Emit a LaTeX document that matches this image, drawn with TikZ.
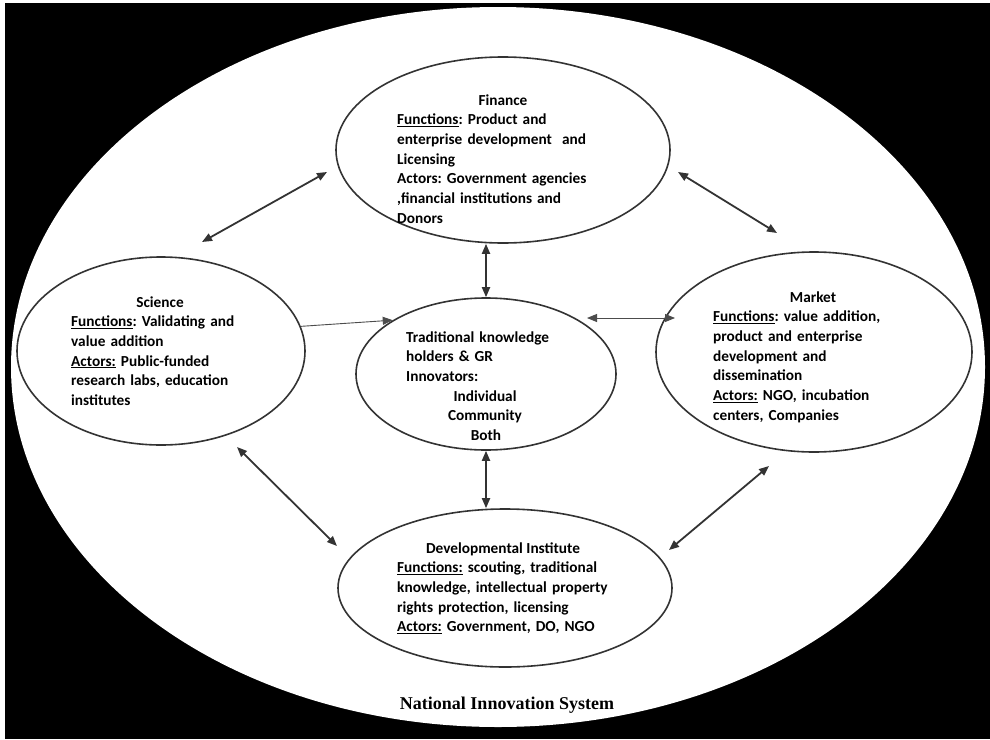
\documentclass[tikz,border=0pt]{standalone}
\usepackage{fontspec}
\setmainfont{Carlito}
\newfontfamily\nisfont{Liberation Serif}
\usetikzlibrary{arrows.meta,shapes.geometric}
\frenchspacing

\tikzset{
  blob/.style = {draw=black!80, line width=1.6pt, ellipse, inner sep=0pt},
  head/.style = {anchor=base, inner sep=0pt, font=\fontsize{15.3}{19.7}\selectfont\bfseries},
  body/.style = {anchor=base west, inner sep=0pt, align=left, text width=260pt,
                 font=\fontsize{15.3}{19.7}\selectfont\bfseries},
  link/.style = {draw=black!80, line width=1.8pt, {Triangle[length=10pt,width=8pt]}-{Triangle[length=10pt,width=8pt]}},
  thinlink/.style = {draw=black!70, line width=0.9pt, {Triangle[length=10pt,width=8pt]}-{Triangle[length=10pt,width=8pt]}},
  onelink/.style  = {draw=black!70, line width=0.9pt, -{Triangle[length=10pt,width=8pt]}}
}

\begin{document}
\begin{tikzpicture}[x=1pt, y=-1pt]
    \useasboundingbox (0,0) rectangle (990,739);
    \fill[white] (0,0) rectangle (990,739);
    \fill[black] (5,3) rectangle (990,739);
    \fill[white] (498,367) ellipse [x radius=487pt, y radius=360pt];

    % the five actors
    \node[blob, minimum width=334pt, minimum height=186pt] (fin) at (503,150) {};
    \node[blob, minimum width=288pt, minimum height=188pt] (sci) at (161,351) {};
    \node[blob, minimum width=316pt, minimum height=200pt] (mkt) at (814,352) {};
    \node[blob, minimum width=260pt, minimum height=152pt] (tk)  at (486,374) {};
    \node[blob, minimum width=334pt, minimum height=158pt] (di)  at (505,588) {};

    % texts
    \node[head] (finhead) at (503,105) {Finance};
    \node[body] (fintxt) at (397,124.7) {\underline{Functions}: Product and\\
        enterprise development~ and\\ Licensing\\ Actors: Government agencies\\
        ,financial institutions and\\ Donors};

    \node[head] (scihead) at (160,307) {Science};
    \node[body] (scitxt) at (71,326.7) {\underline{Functions}: Validating and\\
        value addition\\ \underline{Actors:} Public-funded\\
        research labs, education\\ institutes};

    \node[head] (mkthead) at (813,302) {Market};
    \node[body] (mkttxt) at (713,321.7) {\underline{Functions}: value addition,\\
        product and enterprise\\ development and\\ dissemination\\
        \underline{Actors:} NGO, incubation\\ centers, Companies};

    \node[body] (tktxt) at (406,342) {Traditional knowledge\\ holders \& GR\\ Innovators:};
    \node[head] (tk1) at (485,401) {Individual};
    \node[head] (tk2) at (485,420.7) {Community};
    \node[head] (tk3) at (486,440.4) {Both};

    \node[head] (dihead) at (503,553) {Developmental Institute};
    \node[body] (ditxt) at (397,572.7) {\underline{Functions:} scouting, traditional\\
        knowledge, intellectual property\\ rights protection, licensing\\
        \underline{Actors:} Government, DO, NGO};

    \node[anchor=base, inner sep=0pt, font=\nisfont\fontsize{18}{20}\selectfont\bfseries] (nis) at (507,709) {National Innovation System};

    % arrow ends
    \coordinate (sf1) at (202,242);
    \coordinate (sf2) at (327,172);
    \coordinate (fm1) at (678,172);
    \coordinate (fm2) at (777,233);
    \coordinate (sd1) at (237,447);
    \coordinate (sd2) at (337,546);
    \coordinate (md1) at (769,466);
    \coordinate (md2) at (669,550);
    \coordinate (mt1) at (587,318);
    \coordinate (mt2) at (675,318);

    \draw[link] (sf1) -- (sf2);
    \draw[link] (fm1) -- (fm2);
    \draw[link] (sd1) -- (sd2);
    \draw[link] (md1) -- (md2);
    \draw[link] (tk.north |- fin.south) -- (tk.north);
    \draw[link] (tk.south) -- (tk.south |- di.north);
    \draw[onelink] (sci.10) -- (tk.150);
    \draw[thinlink] (mt1) -- (mt2);
\end{tikzpicture}
\end{document}
